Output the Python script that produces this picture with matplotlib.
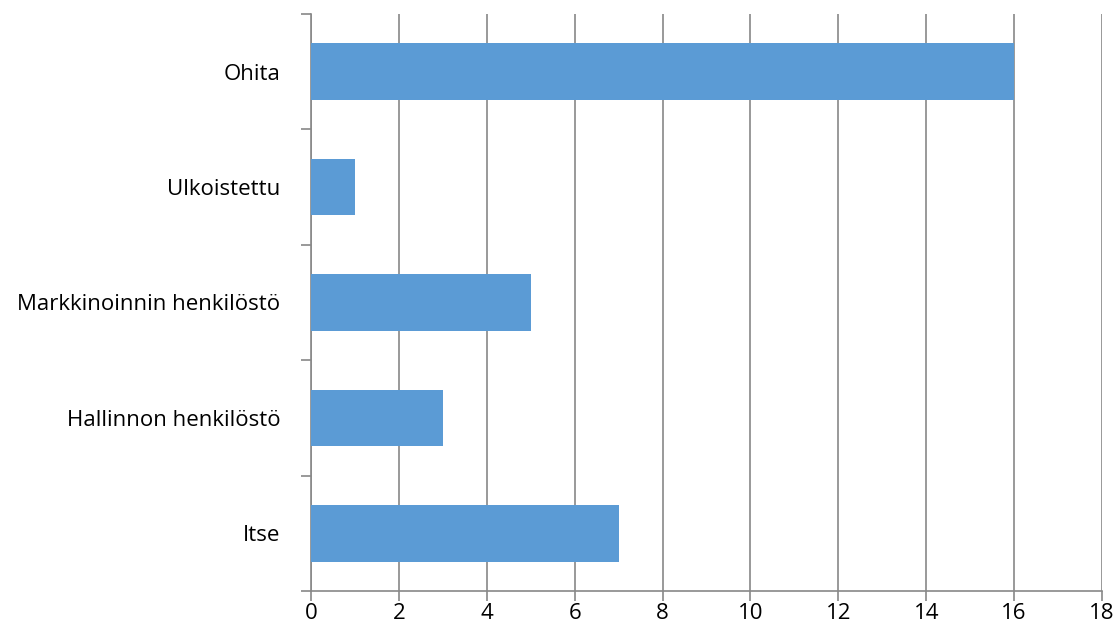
import matplotlib
matplotlib.use('Agg')
import matplotlib.pyplot as plt
import numpy as np

categories = ['Itse', 'Hallinnon henkilöstö', 'Markkinoinnin henkilöstö', 'Ulkoistettu', 'Ohita']
values = [7, 3, 5, 1, 16]
x_ticks = list(range(0, 19, 2))

plt.rcParams['font.family'] = ['Open Sans', 'DejaVu Sans']

fig = plt.figure(figsize=(11.18, 6.36), dpi=100)
ax = fig.add_axes([0.2782, 0.0708, 0.7075, 0.9072])

pos = np.arange(len(categories))
ax.barh(pos, values, height=0.49, color='#5B9BD5', zorder=3)

ax.set_xlim(0, 18)
ax.set_ylim(-0.5, len(categories) - 0.5)
ax.set_xticks(x_ticks)
ax.set_xticklabels([str(t) for t in x_ticks], fontsize=16)
ax.set_yticks(pos)
ax.set_yticklabels(categories, fontsize=16)
ax.set_yticks(np.arange(-0.5, len(categories), 1.0), minor=True)

ax.xaxis.grid(True, color='#888888', linewidth=1.2, zorder=0)
ax.tick_params(axis='y', which='major', length=0, pad=22)
ax.tick_params(axis='y', which='minor', length=7, color='#888888', width=1.2)
ax.tick_params(axis='x', which='major', length=7, color='#888888', width=1.2, pad=2)

for side in ['top', 'right']:
    ax.spines[side].set_visible(False)
for side in ['left', 'bottom']:
    ax.spines[side].set_color('#888888')
    ax.spines[side].set_linewidth(1.2)

plt.savefig('out.png', dpi=100)
